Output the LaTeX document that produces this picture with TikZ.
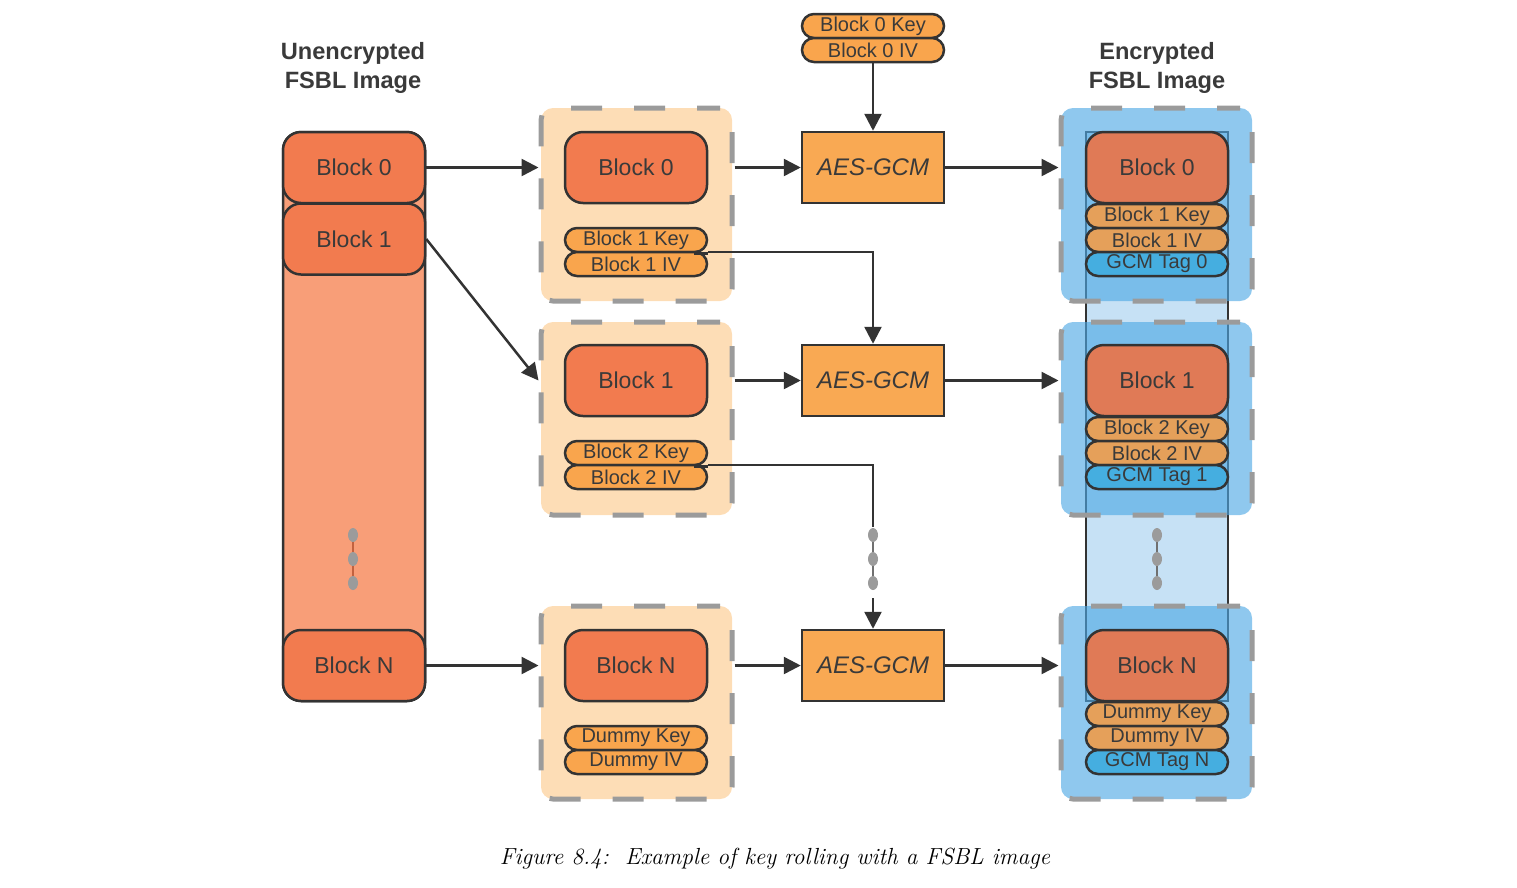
\documentclass[tikz,border=0pt]{standalone}
\usepackage{fontspec}
\newfontfamily\lsans{Liberation Sans}
\usetikzlibrary{arrows.meta,calc}
\definecolor{dk}{HTML}{333333}
\definecolor{txt}{HTML}{3A3A3A}
\definecolor{blkfill}{HTML}{F27B4F}
\definecolor{leftcol}{HTML}{F89E78}
\definecolor{capfill}{HTML}{F9A54D}
\definecolor{aesfill}{HTML}{F9A953}
\definecolor{peach}{HTML}{FDDDB6}
\definecolor{dgray}{HTML}{9B9B9B}
\definecolor{encblk}{HTML}{E07A56}
\definecolor{enccap}{HTML}{E5A05A}
\definecolor{tagfill}{HTML}{45AEE0}
\definecolor{colblue}{HTML}{C6E1F5}
\definecolor{boxblue}{HTML}{4DA8E4}
\begin{document}
\begin{tikzpicture}[x=1pt,y=-1pt,
  base/.style={draw=dk, line width=2.5pt, text=txt, inner sep=0pt, font=\lsans\fontsize{23}{27}\selectfont},
  blk/.style={base, rounded corners=18pt, minimum width=142pt, minimum height=71pt, fill=blkfill},
  eblk/.style={blk, fill=encblk},
  capsule/.style={base, rounded corners=12pt, minimum width=142pt, minimum height=24pt, fill=capfill, font=\lsans\fontsize{20}{22}\selectfont},
  ecapsule/.style={capsule, fill=enccap},
  tagcap/.style={capsule, fill=tagfill},
  aes/.style={base, minimum width=142pt, minimum height=71pt, fill=aesfill, font=\lsans\itshape\fontsize{24}{28}\selectfont},
  dbox/.style={draw=dgray, line width=5pt, dash pattern=on 31pt off 32pt, dash phase=8pt, rounded corners=12pt, minimum width=191pt, minimum height=193pt, inner sep=0pt},
  mbox/.style={dbox, fill=peach},
  ebox/.style={dbox, fill=boxblue, fill opacity=0.63},
  arr/.style={draw=dk, line width=2.5pt, -{Triangle[length=17pt,width=17pt]}},
  ln/.style={draw=dk, line width=2.5pt},
  title/.style={align=center, text=txt, font=\lsans\bfseries\fontsize{23.6}{29}\selectfont},
  dot/.style={fill=dgray, draw=none}
]
\useasboundingbox (0,0) rectangle (1517,887);

% titles
\node[title] (t1) at (353,67.5) {Unencrypted\\FSBL Image};
\node[title] (t2) at (1157,67.5) {Encrypted\\FSBL Image};

% left column
\draw[line width=2.5pt, draw=dk, fill=leftcol, rounded corners=18pt] (283,132) rectangle (425,701);
\draw[line width=1.5pt, draw=blkfill!80!black] (353,535) -- (353,583);
\foreach \yy in {535,559,583} \fill[dot] (353,\yy) ellipse (5 and 7);
\node[blk] (L0) at (354,167.5) {Block 0};
\node[blk] (L1) at (354,239) {Block 1};
\node[blk] (LN) at (354,665.5) {Block N};

% middle column
\node[mbox] (m0) at (636.5,204.5) {};
\node[mbox] (m1) at (636.5,418.5) {};
\node[mbox] (mN) at (636.5,702.5) {};
\node[blk] (M0) at (636,167.5) {Block 0};
\node[blk] (M1) at (636,380.5) {Block 1};
\node[blk] (MN) at (636,665.5) {Block N};

% encrypted column
\draw[line width=2.5pt, draw=dk, fill=colblue] (1086,132) rectangle (1228,701);
\draw[line width=1.5pt, draw=dk!70] (1157,535) -- (1157,583);
\foreach \yy in {535,559,583} \fill[dot] (1157,\yy) ellipse (5 and 7);
\node[ebox] (e0) at (1156.5,204.5) {};
\node[ebox] (e1) at (1156.5,418.5) {};
\node[ebox] (eN) at (1156.5,702.5) {};
\node[eblk] (E0) at (1157,167.5) {Block 0};
\node[eblk] (E1) at (1157,380.5) {Block 1};
\node[eblk] (EN) at (1157,665.5) {Block N};
\node[ecapsule] (E0k) at (1157,216) {Block 1 Key};
\node[ecapsule] (E0i) at (1157,240) {Block 1 IV};
\node[tagcap]  (E0t) at (1157,264) {GCM Tag 0};
\node[ecapsule] (E1k) at (1157,429) {Block 2 Key};
\node[ecapsule] (E1i) at (1157,453) {Block 2 IV};
\node[tagcap]  (E1t) at (1157,477) {GCM Tag 1};
\node[ecapsule] (ENk) at (1157,714) {Dummy Key};
\node[ecapsule] (ENi) at (1157,738) {Dummy IV};
\node[tagcap]  (ENt) at (1157,762) {GCM Tag N};

% AES boxes
\node[aes] (A0) at (873,167.5) {AES-GCM};
\node[aes] (A1) at (873,380.5) {AES-GCM};
\node[aes] (AN) at (873,665.5) {AES-GCM};

% top key
\node[capsule] (K0k) at (873,26) {Block 0 Key};
\node[capsule] (K0i) at (873,50) {Block 0 IV};

% key connectors (under capsules)
\draw[arr] (M0.east |- 0,252) -| (A1.north);
\coordinate (dtop) at (873,527);
\coordinate (dbot) at (873,598);
\draw[ln] (M1.east |- 0,465) -| (dtop);
\draw[line width=1.5pt, draw=dk!70] (873,535) -- (873,583);
\foreach \yy in {535,559,583} \fill[dot] (873,\yy) ellipse (5 and 7);
\draw[arr] (dbot) -- (AN.north);

% middle capsules
\node[capsule] (C1k) at (636,240) {Block 1 Key};
\node[capsule] (C1i) at (636,264) {Block 1 IV};
\node[capsule] (C2k) at (636,453) {Block 2 Key};
\node[capsule] (C2i) at (636,477) {Block 2 IV};
\node[capsule] (CNk) at (636,738) {Dummy Key};
\node[capsule] (CNi) at (636,762) {Dummy IV};
\draw[ln] (C1k.south east) ++(-14,0) -- (C1k.south east);
\draw[ln] (C2k.south east) ++(-14,0) -- (C2k.south east);

% arrows
\draw[arr] (L0.east) -- (L0.east -| m0.west);
\draw[arr] (L1.east) -- (m1.west |- M1.center);
\draw[arr] (LN.east) -- (LN.east -| mN.west);
\draw[arr] (M0.center -| m0.east) -- (A0.west);
\draw[arr] (M1.center -| m1.east) -- (A1.west);
\draw[arr] (MN.center -| mN.east) -- (AN.west);
\draw[arr] (A0.east) -- (A0.east -| e0.west);
\draw[arr] (A1.east) -- (A1.east -| e1.west);
\draw[arr] (AN.east) -- (AN.east -| eN.west);
\draw[arr] (K0i.south) -- (A0.north);

% caption
\node[font=\itshape\fontsize{23.3}{28}\selectfont] (capt) at (775,859) {Figure 8.4:\ \ Example of key rolling with a FSBL image};
\end{tikzpicture}
\end{document}
